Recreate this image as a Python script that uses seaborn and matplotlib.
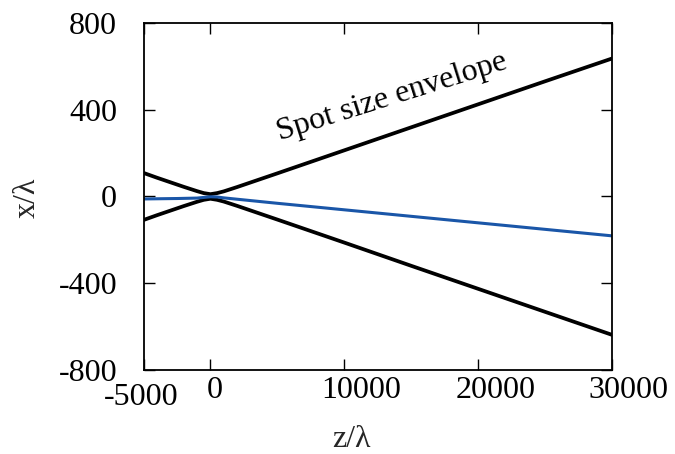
import numpy as np
import pandas as pd
import matplotlib
matplotlib.use("Agg")
import matplotlib.pyplot as plt
import matplotlib.transforms as mtransforms
import seaborn as sns

# ---- data ----
z_env = [-5000, -4000, -3000, -2000, -1000, -500, 0, 500, 1000, 2000, 3000,
         5000, 10000, 15000, 20000, 25000, 30000]
env_upper = [108, 86, 65, 44, 24, 15, 10, 15, 23, 43, 64,
             106, 212, 318, 424, 530, 635]
env_lower = [-109, -87, -66, -45, -25, -16, -11, -16, -24, -44, -65,
             -107, -213, -320, -426, -532, -638]

z_beam = [-5000, -2500, -1000, 0, 500, 1000, 5000, 10000, 20000, 30000]
beam_x = [-12, -10, -8, -2, -3, -7, -32, -62, -122, -182]

xticks = [-5000, 0, 10000, 20000, 30000]
yticks = [-800, -400, 0, 400, 800]
annot_text = "Spot size envelope"

# ---- style ----
sns.set_theme(style="ticks")
plt.rcParams["font.family"] = ["Liberation Serif", "DejaVu Serif"]
plt.rcParams["mathtext.fontset"] = "stix"
FS = 23

fig = plt.figure(figsize=(6.75, 4.54), dpi=100)
ax = fig.add_axes([143.5 / 675, 1 - 370 / 454, (612 - 143.5) / 675, (370 - 22.7) / 454])

df_u = pd.DataFrame({"z": z_env, "x": env_upper})
df_l = pd.DataFrame({"z": z_env, "x": env_lower})
df_b = pd.DataFrame({"z": z_beam, "x": beam_x})

sns.lineplot(data=df_u, x="z", y="x", ax=ax, color="black", linewidth=2.7,
             sort=False, estimator=None)
sns.lineplot(data=df_l, x="z", y="x", ax=ax, color="black", linewidth=2.7,
             sort=False, estimator=None)
sns.lineplot(data=df_b, x="z", y="x", ax=ax, color="#1a56a8", linewidth=2.2,
             sort=False, estimator=None)

ax.set_xlim(-5000, 30000)
ax.set_ylim(-800, 800)
ax.set_xticks(xticks)
ax.set_yticks(yticks)
ax.set_xticklabels([str(t) for t in xticks], fontsize=FS)
ax.set_yticklabels([str(t) for t in yticks], fontsize=FS)

ax.tick_params(axis="both", direction="in", length=8, width=1.0, color="black",
               top=True, right=True, labelcolor="black")
ax.tick_params(axis="x", pad=4)
ax.tick_params(axis="y", pad=19)
for s in ax.spines.values():
    s.set_visible(True)
    s.set_linewidth(1.3)
    s.set_color("black")

# per-label offsets (pixels) as in the reference
offsets = {-5000: (-2, -7), 0: (4, 0), 10000: (17, 0), 20000: (17, 0), 30000: (16, 0)}
for lab, t in zip(ax.get_xticklabels(), xticks):
    dx, dy = offsets[t]
    lab.set_transform(lab.get_transform() +
                      mtransforms.ScaledTranslation(dx / 100, dy / 100, fig.dpi_scale_trans))

ax.set_xlabel("z/λ", fontsize=FS)
ax.set_ylabel("x/λ", fontsize=FS)
ax.xaxis.label.set_va("center")
ax.yaxis.label.set_va("center")
ax.xaxis.set_label_coords(0.443, -0.2015)
ax.yaxis.set_label_coords(-0.2487, 0.495)

ax.text(13600, 455, annot_text, fontsize=FS, rotation=17.5,
        ha="center", va="center", rotation_mode="anchor", color="black")

fig.savefig("out.png", dpi=100, facecolor="white")
